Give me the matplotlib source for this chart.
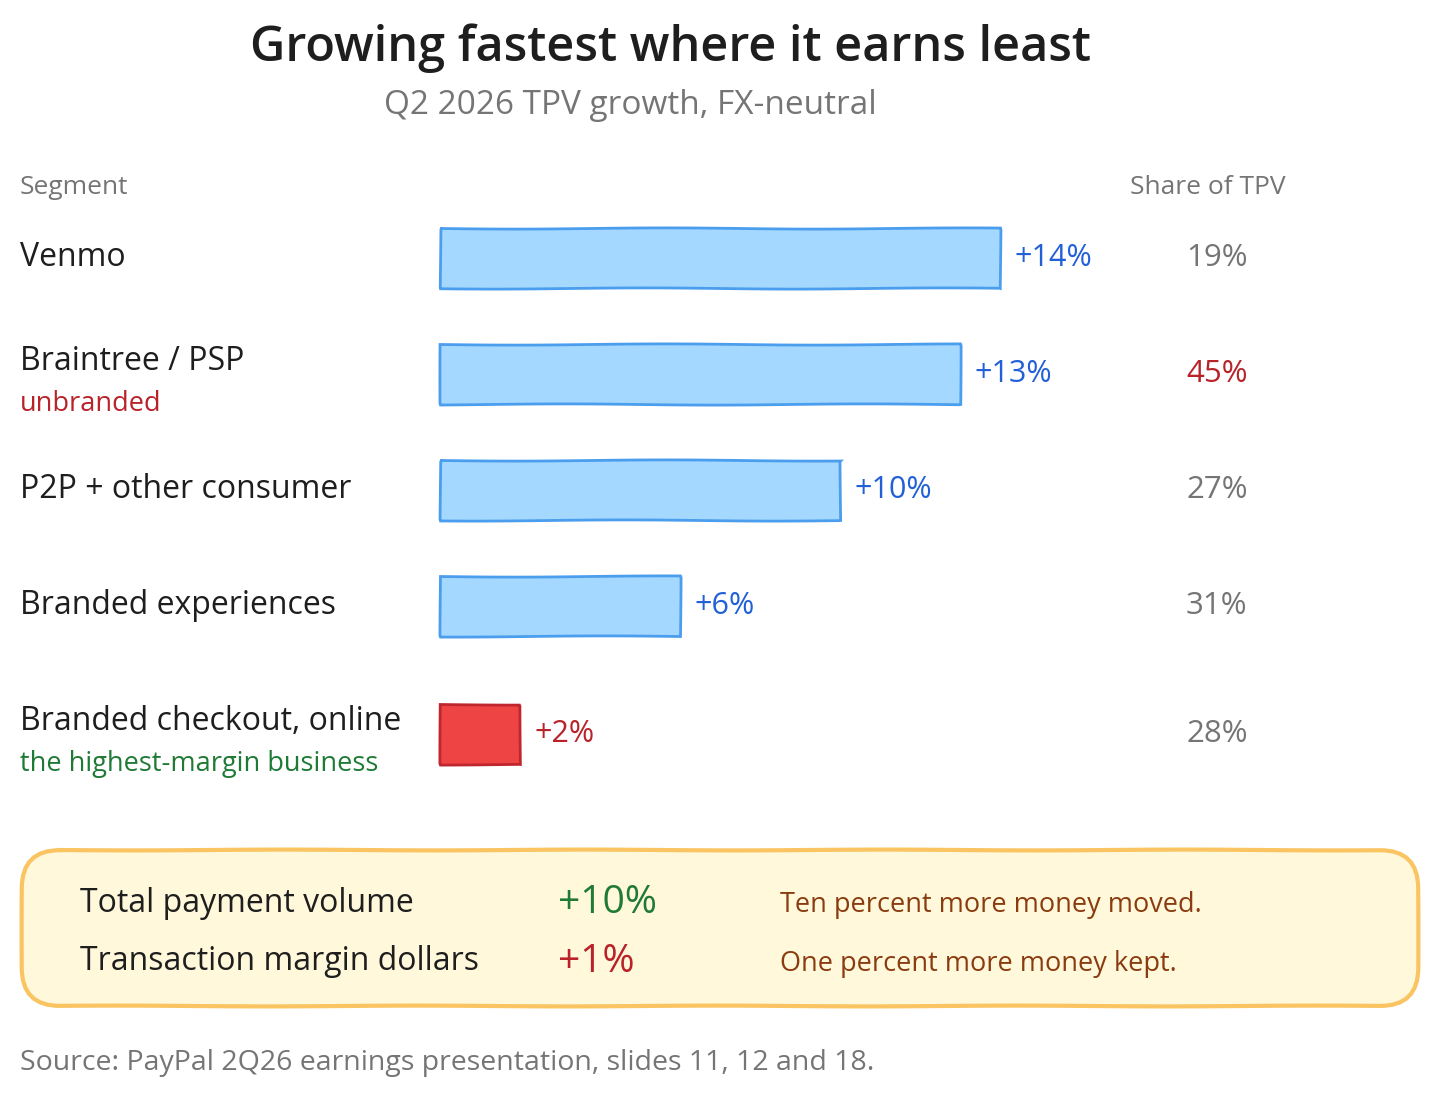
import numpy as np
import matplotlib.pyplot as plt
from matplotlib.patches import FancyBboxPatch

# Dados
segments = ["Venmo", "Braintree / PSP", "P2P + other consumer", "Branded experiences", "Branded checkout, online"]
notes = ["", "unbranded", "", "", "the highest-margin business"]
growth = [14, 13, 10, 6, 2]
share = [19, 45, 27, 31, 28]
highlight_share = [False, True, False, False, False]
highlight_bar = [False, False, False, False, True]

summary_labels = ["Total payment volume", "Transaction margin dollars"]
summary_values = ["+10%", "+1%"]
summary_notes = ["Ten percent more money moved.", "One percent more money kept."]

# Cores
BLUE_FILL = "#a5d8ff"
BLUE_EDGE = "#4a9eed"
BLUE_TXT = "#2260d8"
RED_FILL = "#ef4444"
RED_EDGE = "#c0262d"
RED_TXT = "#b8232a"
GREEN_TXT = "#1f7a35"
GRAY = "#757575"
BROWN = "#8a3b0f"
INK = "#1e1e1e"

FONT = "Open Sans"
plt.rcParams["font.family"] = [FONT, "DejaVu Sans"]

W, H = 1440, 1103
fig = plt.figure(figsize=(W / 100, H / 100), dpi=100)

# eixo em pixels para textos
ax = fig.add_axes([0, 0, 1, 1])
ax.set_xlim(0, W)
ax.set_ylim(H, 0)
ax.axis("off")

# eixo das barras: 0% em x=440, 1% = 40 px
px_per_pct = 40
x0 = 440
bx = fig.add_axes([0, 0, 1, 1], sharey=ax)
bx.set_xlim(-x0 / px_per_pct, (W - x0) / px_per_pct)
bx.axis("off")
bx.patch.set_alpha(0)

row_y = [258, 374, 490, 606, 734]

bars = bx.barh(row_y, growth, height=60, left=0,
               color=[RED_FILL if h else BLUE_FILL for h in highlight_bar],
               edgecolor=[RED_EDGE if h else BLUE_EDGE for h in highlight_bar],
               linewidth=2)
for b in bars:
    b.set_sketch_params(0.6, 300, 1)

# título
ax.text(671, 48, "Growing fastest where it earns least", ha="center", va="center",
        fontsize=35, fontweight="semibold", color=INK)
ax.text(630, 105, "Q2 2026 TPV growth, FX-neutral", ha="center", va="center",
        fontsize=24, color=GRAY)

ax.text(20, 188, "Segment", ha="left", va="center", fontsize=19, color=GRAY)
ax.text(1130, 188, "Share of TPV", ha="left", va="center", fontsize=19, color=GRAY)

for i, (seg, note, g, s) in enumerate(zip(segments, notes, growth, share)):
    y = row_y[i]
    if note:
        ax.text(20, y - 12, seg, ha="left", va="center", fontsize=23, color=INK)
        ax.text(20, y + 30, note, ha="left", va="center", fontsize=19.5,
                color=RED_TXT if i == 1 else GREEN_TXT)
    else:
        ax.text(20, y, seg, ha="left", va="center", fontsize=23, color=INK)
    bx.annotate(f"+{g}%", xy=(g, y), xytext=(15, 0), textcoords="offset pixels",
                ha="left", va="center", fontsize=22,
                color=RED_TXT if highlight_bar[i] else BLUE_TXT)
    ax.text(1186, y, f"{s}%", ha="left", va="center", fontsize=22.5,
            color=RED_TXT if highlight_share[i] else GRAY)

# caixa de resumo
box = FancyBboxPatch((22, 850), 1396, 156, boxstyle="round,pad=0,rounding_size=38",
                     facecolor="#fff8db", edgecolor="#f9c461", linewidth=3)
box.set_sketch_params(0.4, 300, 1)
ax.add_patch(box)

sum_y = [903, 962]
sum_colors = [GREEN_TXT, RED_TXT]
for y, lab, val, note, c in zip(sum_y, summary_labels, summary_values, summary_notes, sum_colors):
    ax.text(80, y, lab, ha="left", va="center", fontsize=23, color=INK)
    ax.text(558, y, val, ha="left", va="center", fontsize=28, color=c)
    ax.text(780, y + 2, note, ha="left", va="center", fontsize=19.5, color=BROWN)

ax.text(20, 1063, "Source: PayPal 2Q26 earnings presentation, slides 11, 12 and 18.",
        ha="left", va="center", fontsize=20.5, color=GRAY)

fig.savefig("out.png", dpi=100, facecolor="white")
